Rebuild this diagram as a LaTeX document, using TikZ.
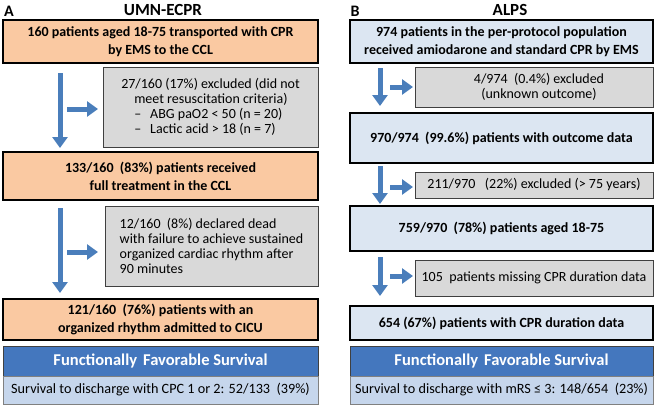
\documentclass[tikz,border=0pt]{standalone}
\usepackage{fontspec}
\setmainfont{Carlito}
\usetikzlibrary{arrows.meta}
\definecolor{orangefill}{HTML}{FAC9A2}
\definecolor{lbluefill}{HTML}{DCE6F2}
\definecolor{grayfill}{HTML}{D9D9D9}
\definecolor{grayline}{HTML}{404040}
\definecolor{headblue}{HTML}{4477BE}
\definecolor{footblue}{HTML}{C6D6EC}
\definecolor{arrowblue}{HTML}{4A7EBB}
\begin{document}
\begin{tikzpicture}[x=1pt,y=-1pt,
  mainbox/.style={draw=black, line width=1.8pt, inner sep=0pt, align=center,
    font=\bfseries\fontsize{14}{18}\selectfont},
  orangebox/.style={mainbox, fill=orangefill, minimum width=315pt},
  bluebox/.style={mainbox, fill=lbluefill, minimum width=303pt},
  graybox/.style={draw=grayline, line width=0.8pt, fill=grayfill, inner sep=0pt,
    font=\fontsize{14}{15}\selectfont},
  headbox/.style={draw=grayline, line width=0.6pt, fill=headblue, text=white, inner sep=0pt,
    minimum height=30pt, font=\bfseries\fontsize{16.5}{17}\selectfont},
  footbox/.style={draw=gray, line width=0.6pt, fill=footblue, inner sep=0pt,
    minimum height=28pt, font=\fontsize{14.2}{15}\selectfont},
  flowarrow/.style={draw=arrowblue, line width=5pt, -{Triangle[width=15pt,length=11pt]}},
  paneltitle/.style={font=\bfseries\fontsize{17}{17}\selectfont, inner sep=0pt},
  panelletter/.style={font=\bfseries\fontsize{16}{16}\selectfont, inner sep=0pt}
]
\useasboundingbox (0,0) rectangle (666,408);

% ---------------- Panel A ----------------
\node[panelletter] (la) at (9,11) {A};
\node[paneltitle] (ta) at (163,10) {UMN-ECPR};

\node[orangebox, minimum height=43pt] (a1) at (160.5,41.5)
  {160 patients aged 18-75 transported with CPR\\by EMS to the CCL};
\node[graybox, minimum width=215pt, minimum height=80pt, align=left] (g1) at (210.5,107)
  {27/160 (17\%) excluded (did not\\
   \hspace*{13pt}meet resuscitation criteria)\\
   \hspace*{13pt}–\hspace*{9pt}ABG paO2 < 50 (n = 20)\\
   \hspace*{13pt}–\hspace*{9pt}Lactic acid > 18 (n = 7)};
\node[graybox, minimum width=213pt, minimum height=80pt, align=left] (g2) at (211.5,246)
  {12/160~ (8\%) declared dead\\
   with failure to achieve sustained\\
   organized cardiac rhythm after\\
   90 minutes};
\node[orangebox, minimum height=48pt] (a2) at (160.5,176)
  {133/160~ (83\%) patients received\\full treatment in the CCL};
\node[orangebox, minimum height=41pt] (a3) at (160.5,319.5)
  {121/160~ (76\%) patients with an\\organized rhythm admitted to CICU};
\node[headbox, minimum width=315pt] (ha) at (160.5,361) {Functionally\hspace{6pt}Favorable Survival};
\node[footbox, minimum width=315pt] (fa) at (160.5,390) {Survival to discharge with CPC 1 or 2: 52/133~ (39\%)};

\coordinate (av1s) at (60,73);  \coordinate (av1e) at (60,148);
\coordinate (ah1s) at (67,109); \coordinate (ah1e) at (98,109);
\coordinate (av2s) at (60,208); \coordinate (av2e) at (60,293);
\coordinate (ah2s) at (67,252); \coordinate (ah2e) at (98,252);
\draw[flowarrow] (av1s) -- (av1e);
\draw[flowarrow] (ah1s) -- (ah1e);
\draw[flowarrow] (av2s) -- (av2e);
\draw[flowarrow] (ah2s) -- (ah2e);

% ---------------- Panel B ----------------
\node[panelletter] (lb) at (355,11) {B};
\node[paneltitle] (tb) at (510,10) {ALPS};

\node[bluebox, minimum height=43pt] (b1) at (501.5,41.5)
  {974 patients in the per-protocol population\\received amiodarone and standard CPR by EMS};
\node[graybox, minimum width=238pt, minimum height=40pt, align=center] (h1) at (534,87)
  {\hspace*{10pt}4/974~ (0.4\%) excluded\\\hspace*{10pt}(unknown outcome)};
\node[bluebox, minimum height=50pt] (b2) at (501.5,138)
  {970/974~ (99.6\%) patients with outcome data};
\node[graybox, minimum width=238pt, minimum height=26pt, align=center] (h2) at (534,185)
  {211/970~~ (22\%) excluded (> 75 years)};
\node[bluebox, minimum height=45pt] (b3) at (501.5,228.5)
  {759/970~ (78\%) patients aged 18-75};
\node[graybox, minimum width=238pt, minimum height=36pt, align=center] (h3) at (534,278)
  {105~ patients missing CPR duration data};
\node[bluebox, minimum height=34pt] (b4) at (501.5,323)
  {654 (67\%) patients with CPR duration data};
\node[headbox, minimum width=303pt] (hb) at (501.5,361) {Functionally\hspace{6pt}Favorable Survival};
\node[footbox, minimum width=303pt] (fb) at (501.5,390) {Survival to discharge with mRS ≤ 3: 148/654~ (23\%)};

\coordinate (bv1s) at (380,68);  \coordinate (bv1e) at (380,106);
\coordinate (bh1s) at (390,87);  \coordinate (bh1e) at (413,87);
\coordinate (bv2s) at (380,166); \coordinate (bv2e) at (380,204);
\coordinate (bh2s) at (390,187); \coordinate (bh2e) at (413,187);
\coordinate (bv3s) at (380,257); \coordinate (bv3e) at (380,296);
\coordinate (bh3s) at (390,276); \coordinate (bh3e) at (413,276);
\draw[flowarrow] (bv1s) -- (bv1e);
\draw[flowarrow] (bh1s) -- (bh1e);
\draw[flowarrow] (bv2s) -- (bv2e);
\draw[flowarrow] (bh2s) -- (bh2e);
\draw[flowarrow] (bv3s) -- (bv3e);
\draw[flowarrow] (bh3s) -- (bh3e);
\end{tikzpicture}
\end{document}
